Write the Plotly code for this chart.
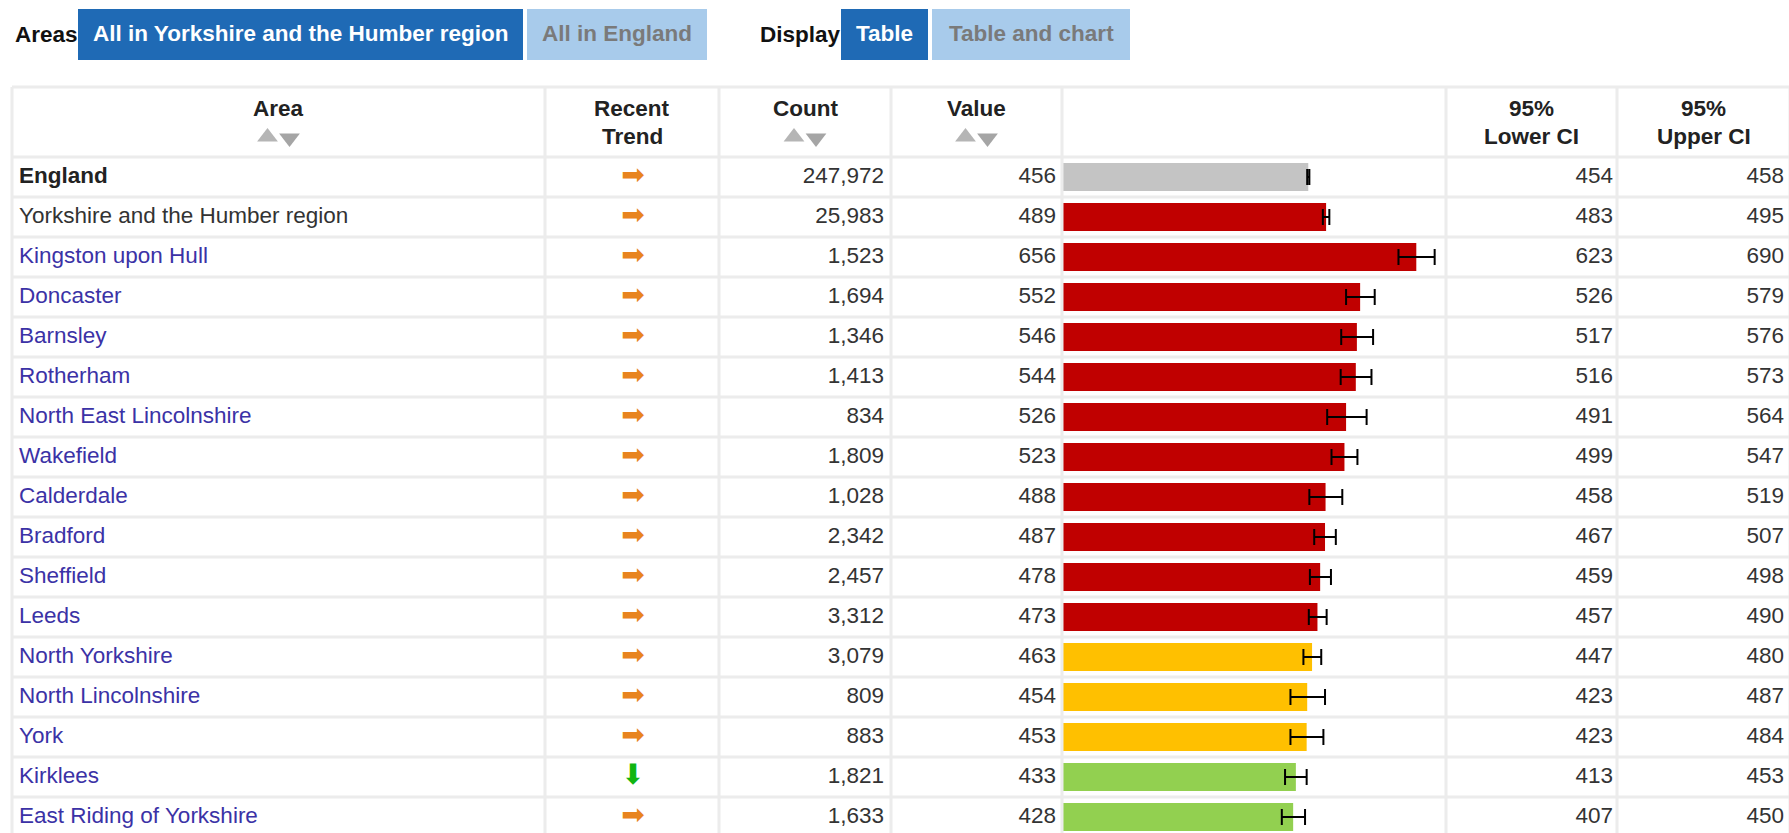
import plotly.graph_objects as go

# ---------------- data ----------------
areas = ["England", "Yorkshire and the Humber region", "Kingston upon Hull", "Doncaster",
         "Barnsley", "Rotherham", "North East Lincolnshire", "Wakefield", "Calderdale",
         "Bradford", "Sheffield", "Leeds", "North Yorkshire", "North Lincolnshire", "York",
         "Kirklees", "East Riding of Yorkshire"]
trend = ["same"] * 15 + ["down", "same"]
counts = [247972, 25983, 1523, 1694, 1346, 1413, 834, 1809, 1028, 2342, 2457, 3312,
          3079, 809, 883, 1821, 1633]
values = [456, 489, 656, 552, 546, 544, 526, 523, 488, 487, 478, 473, 463, 454, 453, 433, 428]
lower_ci = [454, 483, 623, 526, 517, 516, 491, 499, 458, 467, 459, 457, 447, 423, 423, 413, 407]
upper_ci = [458, 495, 690, 579, 576, 573, 564, 547, 519, 507, 498, 490, 480, 487, 484, 453, 450]
significance = ["benchmark"] + ["worse"] * 11 + ["similar"] * 3 + ["better"] * 2

header_cols = ["Area", "Recent|Trend", "Count", "Value", "", "95%|Lower CI", "95%|Upper CI"]
sortable = [True, False, True, True, False, False, False]

# ---------------- styles ----------------
W, H = 1789, 833
FONT = "Liberation Sans, Arial, sans-serif"
FS = 22.5
sig_colors = {"benchmark": "#C4C4C4", "worse": "#C00000", "similar": "#FFC000", "better": "#92D050"}
trend_glyph = {"same": "➡", "down": "⬇"}
trend_color = {"same": "#E8841E", "down": "#11B511"}
dark_blue, light_blue = "#1F6AB5", "#A8CBEB"
grid_col = "#ECECEC"

col_edges = [12, 545, 719, 891, 1062, 1446, 1617, 1790]
row0_px, row_px = 177, 40          # pixel centre of first row, row pitch
table_top = 87

rows = list(range(len(areas)))
bar_colors = [sig_colors[s] for s in significance]

fig = go.Figure()

# bars with confidence intervals
fig.add_trace(go.Bar(
    x=values, y=rows, orientation="h", width=0.7,
    marker=dict(color=bar_colors, line=dict(width=0)),
    error_x=dict(type="data", symmetric=False,
                 array=[u - v for u, v in zip(upper_ci, values)],
                 arrayminus=[v - l for v, l in zip(values, lower_ci)],
                 color="black", thickness=2, width=8),
    xaxis="x", yaxis="y", hoverinfo="skip", cliponaxis=False))

# area names
name_text = [f"<b>{a}</b>" if i == 0 else a for i, a in enumerate(areas)]
name_color = ["#222222", "#333333"] + ["#3B32A6"] * (len(areas) - 2)
fig.add_trace(go.Scatter(x=[19] * len(areas), y=rows, mode="text", text=name_text,
                         textposition="middle right", cliponaxis=False,
                         textfont=dict(family=FONT, size=FS, color=name_color),
                         xaxis="x2", yaxis="y", hoverinfo="skip"))

# trend arrows
fig.add_trace(go.Scatter(x=[633] * len(areas), y=rows, mode="text",
                         text=[trend_glyph[t] for t in trend], textposition="middle center",
                         cliponaxis=False,
                         textfont=dict(family="DejaVu Sans", size=28,
                                       color=[trend_color[t] for t in trend]),
                         xaxis="x2", yaxis="y", hoverinfo="skip"))

# numeric columns (right aligned)
for xpos, vals in [(884, [f"{c:,}" for c in counts]), (1056, [str(v) for v in values]),
                   (1613, [str(v) for v in lower_ci]), (1784, [str(v) for v in upper_ci])]:
    fig.add_trace(go.Scatter(x=[xpos] * len(vals), y=rows, mode="text", text=vals,
                             textposition="middle left", cliponaxis=False,
                             textfont=dict(family=FONT, size=FS, color="#333333"),
                             xaxis="x2", yaxis="y", hoverinfo="skip"))

# header sort triangles
sort_x = [(col_edges[i] + col_edges[i + 1]) / 2 for i, s in enumerate(sortable) if s]
fig.add_trace(go.Scatter(x=[x - 11 for x in sort_x], y=[137] * len(sort_x), mode="markers",
                         marker=dict(symbol="triangle-up", size=18, color="#B5B5B5"),
                         xaxis="x2", yaxis="y2", hoverinfo="skip"))
fig.add_trace(go.Scatter(x=[x + 11 for x in sort_x], y=[138] * len(sort_x), mode="markers",
                         marker=dict(symbol="triangle-down", size=18, color="#A5A5A5"),
                         xaxis="x2", yaxis="y2", hoverinfo="skip"))

shapes = []
annotations = []

# header text
for i, h in enumerate(header_cols):
    if not h:
        continue
    cx = (col_edges[i] + col_edges[i + 1]) / 2
    lines = h.split("|")
    ys = [108] if len(lines) == 1 else [108, 136]
    for line, yy in zip(lines, ys):
        annotations.append(dict(x=cx, y=yy, xref="x2", yref="y2", text=f"<b>{line}</b>",
                                showarrow=False, xanchor="center", yanchor="middle",
                                font=dict(family=FONT, size=FS, color="#222222")))

# grid lines
for xe in col_edges:
    shapes.append(dict(type="line", xref="x2", yref="y2", x0=xe, x1=xe, y0=table_top, y1=H + 5,
                       line=dict(color=grid_col, width=3), layer="below"))
shapes.append(dict(type="line", xref="x2", yref="y2", x0=col_edges[0], x1=col_edges[-1],
                   y0=table_top, y1=table_top, line=dict(color=grid_col, width=3), layer="below"))
for r in [-0.5] + [i + 0.5 for i in rows]:
    shapes.append(dict(type="line", xref="x2", yref="y", x0=col_edges[0], x1=col_edges[-1],
                       y0=r, y1=r, line=dict(color=grid_col, width=3), layer="below"))

# top controls
labels = [("Areas", 13), ("Display", 758)]
for txt, x0 in labels:
    annotations.append(dict(x=x0, y=34, xref="x2", yref="y2", text=f"<b>{txt}</b>",
                            showarrow=False, xanchor="left", yanchor="middle",
                            font=dict(family=FONT, size=FS, color="#111111")))
buttons = [("All in Yorkshire and the Humber region", 78, 523, True),
           ("All in England", 527, 707, False),
           ("Table", 841, 928, True),
           ("Table and chart", 932, 1130, False)]
for txt, x0, x1, active in buttons:
    shapes.append(dict(type="rect", xref="x2", yref="y2", x0=x0, x1=x1, y0=9, y1=60,
                       fillcolor=dark_blue if active else light_blue, line=dict(width=0),
                       layer="below"))
    annotations.append(dict(x=(x0 + x1) / 2, y=33, xref="x2", yref="y2", text=f"<b>{txt}</b>",
                            showarrow=False, xanchor="center", yanchor="middle",
                            font=dict(family=FONT, size=FS,
                                      color="#FFFFFF" if active else "#7A7A7A")))

y_range = [(H - row0_px) / row_px, -row0_px / row_px]
fig.update_layout(
    width=W, height=H, margin=dict(l=0, r=0, t=0, b=0),
    paper_bgcolor="white", plot_bgcolor="rgba(0,0,0,0)", showlegend=False,
    shapes=shapes, annotations=annotations,
    xaxis=dict(domain=[1062 / W, 1446 / W], range=[0, 711], visible=False, fixedrange=True,
               anchor="y"),
    xaxis2=dict(domain=[0, 1], range=[0, W], visible=False, fixedrange=True, anchor="y"),
    yaxis=dict(domain=[0, 1], range=y_range, visible=False, fixedrange=True, anchor="x"),
    yaxis2=dict(domain=[0, 1], range=[H, 0], visible=False, fixedrange=True, anchor="x2",
                overlaying="y"),
)

fig.write_html("out.html", config={"displayModeBar": False},
               post_script="document.body.style.margin='0';document.body.style.overflow='hidden';")
